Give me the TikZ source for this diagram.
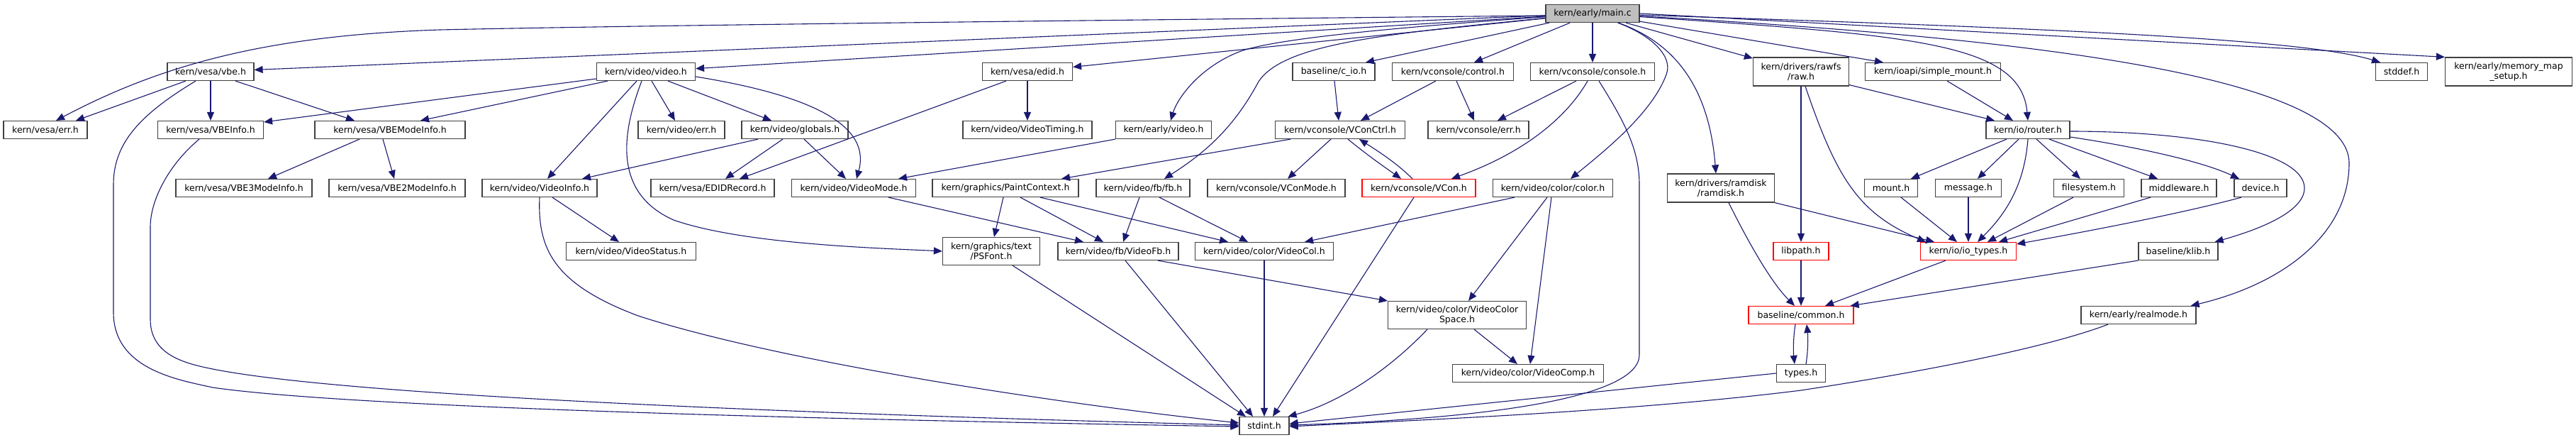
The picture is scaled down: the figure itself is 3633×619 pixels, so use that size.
\documentclass[tikz,border=0pt]{standalone}
\usepackage{fontspec}
\setmainfont{DejaVu Sans}
\usepackage{tikz}
\usetikzlibrary{arrows.meta}
\definecolor{edgeblue}{HTML}{191970}
\definecolor{boxgray}{HTML}{404040}

\begin{document}
\begin{tikzpicture}[x=1pt, y=-1pt,
    hdr/.style={draw=boxgray, fill=white, line width=1.2pt, minimum height=25pt, inner sep=1pt,
        align=center, font=\fontsize{12.5}{14.2}\selectfont},
    root/.style={hdr, fill=black!25},
    trunc/.style={hdr, draw=red},
    inc/.style={draw=edgeblue, line width=1.1pt, -{Triangle[length=12pt,width=10pt]}}]
    \useasboundingbox[fill=white] (0,0) rectangle (3633,619);

    % top row
    \node [root, minimum width=132] (main) at (2246,19) {kern/early/main.c};
    \node [hdr, minimum width=122] (vbe) at (297,101) {kern/vesa/vbe.h};
    \node [hdr, minimum width=139] (video) at (911,101) {kern/video/video.h};
    \node [hdr, minimum width=127] (edid) at (1449,101) {kern/vesa/edid.h};
    \node [hdr, minimum width=116] (cio) at (1881,101) {baseline/c\_io.h};
    \node [hdr, minimum width=171] (control) at (2049,101) {kern/vconsole/control.h};
    \node [hdr, minimum width=175] (console) at (2246,101) {kern/vconsole/console.h};
    \node [hdr, minimum width=135, minimum height=40] (raw) at (2540,101) {kern/drivers/rawfs\\/raw.h};
    \node [hdr, minimum width=191] (smount) at (2726,101) {kern/ioapi/simple\_mount.h};
    \node [hdr, minimum width=73] (stddef) at (3387,101) {stddef.h};
    \node [hdr, minimum width=179, minimum height=40] (memmap) at (3538,101) {kern/early/memory\_map\\\_setup.h};

    \node [hdr, minimum width=118] (vesaerr) at (64,183) {kern/vesa/err.h};
    \node [hdr, minimum width=149] (vbeinfo) at (297,183) {kern/vesa/VBEInfo.h};
    \node [hdr, minimum width=212] (vbemode) at (550,183) {kern/vesa/VBEModeInfo.h};
    \node [hdr, minimum width=122] (viderr) at (961,183) {kern/video/err.h};
    \node [hdr, minimum width=150] (globals) at (1121,183) {kern/video/globals.h};
    \node [hdr, minimum width=182] (vtiming) at (1449,183) {kern/video/VideoTiming.h};
    \node [hdr, minimum width=135] (evideo) at (1641,183) {kern/early/video.h};
    \node [hdr, minimum width=183] (vconctrl) at (1890,183) {kern/vconsole/VConCtrl.h};
    \node [hdr, minimum width=142] (vconerr) at (2085,183) {kern/vconsole/err.h};
    \node [hdr, minimum width=118] (router) at (2860,183) {kern/io/router.h};

    \node [hdr, minimum width=192] (vbe3) at (344,265) {kern/vesa/VBE3ModeInfo.h};
    \node [hdr, minimum width=192] (vbe2) at (560,265) {kern/vesa/VBE2ModeInfo.h};
    \node [hdr, minimum width=162] (vinfo) at (761,265) {kern/video/VideoInfo.h};
    \node [hdr, minimum width=174] (edidrec) at (1005,265) {kern/vesa/EDIDRecord.h};
    \node [hdr, minimum width=175] (vmode) at (1204,265) {kern/video/VideoMode.h};
    \node [hdr, minimum width=206] (paint) at (1418,265) {kern/graphics/PaintContext.h};
    \node [hdr, minimum width=132] (fb) at (1612,265) {kern/video/fb/fb.h};
    \node [hdr, minimum width=194] (vconmode) at (1800,265) {kern/vconsole/VConMode.h};
    \node [trunc, minimum width=160] (vcon) at (2001,265) {kern/vconsole/VCon.h};
    \node [hdr, minimum width=169] (color) at (2190,265) {kern/video/color/color.h};
    \node [hdr, minimum width=151, minimum height=40] (ramdisk) at (2427,265) {kern/drivers/ramdisk\\/ramdisk.h};
    \node [hdr, minimum width=75] (mount) at (2667,265) {mount.h};
    \node [hdr, minimum width=93] (message) at (2776,265) {message.h};
    \node [hdr, minimum width=99] (filesys) at (2946,265) {filesystem.h};
    \node [hdr, minimum width=106] (middleware) at (3073,265) {middleware.h};
    \node [hdr, minimum width=74] (device) at (3188,265) {device.h};

    \node [hdr, minimum width=183] (vstatus) at (890,354) {kern/video/VideoStatus.h};
    \node [hdr, minimum width=137, minimum height=39] (psfont) at (1398,354) {kern/graphics/text\\/PSFont.h};
    \node [hdr, minimum width=170] (videofb) at (1577,354) {kern/video/fb/VideoFb.h};
    \node [hdr, minimum width=195] (videocol) at (1783,354) {kern/video/color/VideoCol.h};
    \node [trunc, minimum width=78] (libpath) at (2540,354) {libpath.h};
    \node [trunc, minimum width=135] (iotypes) at (2776,354) {kern/io/io\_types.h};
    \node [hdr, minimum width=112] (klib) at (3072,354) {baseline/klib.h};

    \node [hdr, minimum width=195, minimum height=39] (colorspace) at (2055,444) {kern/video/color/VideoColor\\Space.h};
    \node [trunc, minimum width=148] (common) at (2540,444) {baseline/common.h};
    \node [hdr, minimum width=162] (realmode) at (3016,444) {kern/early/realmode.h};
    \node [hdr, minimum width=213] (vcomp) at (2155,526) {kern/video/color/VideoComp.h};
    \node [hdr, minimum width=69] (types) at (2540,526) {types.h};
    \node [hdr, minimum width=70] (stdint) at (1783,600) {stdint.h};

    % kern/early/main.c
    \draw[inc] ([yshift=-3]main.west) .. controls (1400,30) and (900,36) .. (620,42) .. controls (380,50) and (230,90) .. ([xshift=15]vesaerr.north);
    \draw[inc] (main) -- (vbe);
    \draw[inc] (main) -- (video);
    \draw[inc] (main) -- (edid);
    \draw[inc] (main) .. controls (1950,40) and (1800,55) .. (1750,72) .. controls (1690,95) and (1660,140) .. ([xshift=10]evideo.north);
    \draw[inc] (main) .. controls (1950,48) and (1810,62) .. (1775,115) .. controls (1740,180) and (1700,215) .. ([xshift=30]fb.north);
    \draw[inc] (main) -- ([xshift=45]cio.north);
    \draw[inc] (main) -- ([xshift=30]control.north);
    \draw[inc] (main) -- (console);
    \draw[inc] (main) .. controls (2330,50) and (2360,80) .. (2350,105) .. controls (2330,160) and (2260,215) .. ([xshift=25]color.north);
    \draw[inc] (main) .. controls (2360,60) and (2410,120) .. ([xshift=-7]ramdisk.north);
    \draw[inc] (main) -- (raw);
    \draw[inc] (main) -- ([xshift=-70]smount.north);
    \draw[inc] (main) .. controls (2700,50) and (2850,60) .. (router.north);
    \draw[inc] (main) .. controls (2900,40) and (3250,55) .. ([xshift=-30]stddef.north);
    \draw[inc] (main.east) -- (memmap.north west);
    \draw[inc] (main) .. controls (2800,50) and (3313,100) .. (3313,230) .. controls (3313,330) and (3220,400) .. ([xshift=-8]realmode.north east);

    % vesa
    \draw[inc] ([xshift=-35]vbe.south) -- ([xshift=43]vesaerr.north);
    \draw[inc] (vbe) -- (vbeinfo);
    \draw[inc] ([xshift=35]vbe.south) -- ([xshift=-50]vbemode.north);
    \draw[inc] ([xshift=-21]vbe.south) .. controls (200,160) and (160,200) .. (160,260) -- (160,440) .. controls (160,520) and (250,535) .. (300,546) .. controls (500,575) and (1200,592) .. ([yshift=-1]stdint.west);
    \draw[inc] ([xshift=-16]vbeinfo.south) .. controls (240,230) and (212,280) .. (212,320) -- (212,450) .. controls (212,500) and (260,512) .. (300,520) .. controls (500,560) and (1200,585) .. ([yshift=1]stdint.west);
    \draw[inc] ([xshift=-43]vbemode.south) -- ([xshift=34]vbe3.north);
    \draw[inc] ([xshift=-10]vbemode.south) -- ([xshift=-4]vbe2.north);
    \draw[inc] ([xshift=-30]edid.south) -- ([xshift=38]edidrec.north);
    \draw[inc] (edid) -- (vtiming);

    % video
    \draw[inc] ([yshift=-10]video.west) -- ([yshift=11]vbeinfo.east);
    \draw[inc] ([xshift=-54]video.south) -- ([xshift=43]vbemode.north);
    \draw[inc] ([xshift=-13]video.south) -- ([xshift=11]vinfo.north);
    \draw[inc] ([xshift=8]video.south) -- ([xshift=-9]viderr.north);
    \draw[inc] ([xshift=31]video.south) -- ([xshift=-33]globals.north);
    \draw[inc] ([xshift=-6]video.south) .. controls (880,180) and (860,270) .. (950,310) .. controls (1050,345) and (1250,350) .. (psfont.west);
    \draw[inc] ([yshift=-7]video.east) .. controls (1180,140) and (1225,190) .. ([xshift=4]vmode.north);
    \draw[inc] ([xshift=-52]globals.south) -- ([xshift=60]vinfo.north);
    \draw[inc] ([xshift=-17]globals.south) -- ([xshift=18]edidrec.north);
    \draw[inc] ([xshift=13]globals.south) -- ([xshift=-11]vmode.north);
    \draw[inc] ([xshift=18]vinfo.south) -- ([xshift=-17]vstatus.north);
    \draw[inc] (vinfo.south) .. controls (758,350) and (780,400) .. (900,445) .. controls (1100,510) and (1500,570) .. ([yshift=4]stdint.west);
    \draw[inc] (evideo.south west) -- ([xshift=63]vmode.north);
    \draw[inc] ([xshift=49]vmode.south) -- ([xshift=-49]videofb.north);
    \draw[inc] ([xshift=-3]paint.south) -- ([xshift=4]psfont.north);
    \draw[inc] ([xshift=21]paint.south) -- ([xshift=-21]videofb.north);
    \draw[inc] ([xshift=49]paint.south) -- ([xshift=-51]videocol.north);
    \draw[inc] ([xshift=-5]fb.south) -- ([xshift=7]videofb.north);
    \draw[inc] ([xshift=23]fb.south) -- ([xshift=-23]videocol.north);
    \draw[inc] ([xshift=56]videofb.south) -- (colorspace.north west);
    \draw[inc] ([xshift=30]psfont.south) -- ([xshift=-26]stdint.north);
    \draw[inc] ([xshift=10]videofb.south) -- ([xshift=-16]stdint.north);
    \draw[inc] (videocol) -- (stdint);
    \draw[inc] ([xshift=-7]vcon.south) -- ([xshift=12]stdint.north);

    % vconsole
    \draw[inc] ([xshift=-70]vconctrl.south) -- ([xshift=79]paint.north);
    \draw[inc] ([xshift=1]cio.south) -- ([xshift=-2]vconctrl.north);
    \draw[inc] ([xshift=-24]control.south) -- ([xshift=29]vconctrl.north);
    \draw[inc] ([xshift=5]control.south) -- ([xshift=-6]vconerr.north);
    \draw[inc] ([xshift=-23]console.south) -- ([xshift=27]vconerr.north);
    \draw[inc] ([xshift=-7]console.south) .. controls (2210,165) and (2150,215) .. ([xshift=46]vcon.north);
    \draw[inc] ([xshift=9]console.south) .. controls (2290,170) and (2312,210) .. (2312,260) -- (2312,500) .. controls (2312,560) and (2100,590) .. ([yshift=1]stdint.east);
    \draw[inc] ([xshift=-13]vconctrl.south) -- ([xshift=16]vconmode.north);
    \draw[inc] ([xshift=11]vconctrl.south) .. controls (1930,220) and (1955,237) .. ([xshift=-25]vcon.north);
    \draw[inc] ([xshift=-9]vcon.north) .. controls (1970,230) and (1945,214) .. ([xshift=27]vconctrl.south);

    % color
    \draw[inc] ([xshift=-54]color.south) -- ([xshift=57]videocol.north);
    \draw[inc] ([xshift=-8]color.south) -- ([xshift=16]colorspace.north);
    \draw[inc] ([xshift=-2]color.south) -- ([xshift=3]vcomp.north);
    \draw[inc] ([xshift=24]colorspace.south) -- ([xshift=-15]vcomp.north);
    \draw[inc] ([xshift=-42]colorspace.south) .. controls (1950,530) and (1880,570) .. ([xshift=-2]stdint.north east);

    % io
    \draw[inc] ([xshift=11]ramdisk.south) .. controls (2470,350) and (2500,400) .. ([xshift=-9]common.north);
    \draw[inc] (ramdisk.south east) -- ([xshift=-48]iotypes.north);
    \draw[inc] (raw) -- (libpath);
    \draw[inc] ([xshift=6]raw.south) .. controls (2590,250) and (2620,300) .. ([xshift=-60]iotypes.north);
    \draw[inc] ([yshift=2]raw.south east) -- ([xshift=-47]router.north);
    \draw[inc] ([xshift=20]smount.south) -- ([xshift=-21]router.north);
    \draw[inc] ([xshift=-30]router.south) -- ([xshift=28]mount.north);
    \draw[inc] ([xshift=-13]router.south) -- ([xshift=13]message.north);
    \draw[inc] (router.south) .. controls (2855,260) and (2830,300) .. ([xshift=13]iotypes.north);
    \draw[inc] ([xshift=12]router.south) -- ([xshift=-12]filesys.north);
    \draw[inc] ([xshift=30]router.south) -- ([xshift=-30]middleware.north);
    \draw[inc] ([yshift=-10]router.east) .. controls (3000,205) and (3100,225) .. ([xshift=-30]device.north);
    \draw[inc] ([yshift=-2]router.east) .. controls (3100,185) and (3250,215) .. (3250,265) .. controls (3250,300) and (3180,325) .. ([xshift=-5]klib.north east);
    \draw[inc] ([xshift=14]mount.south) -- ([xshift=-16]iotypes.north);
    \draw[inc] (message) -- (iotypes);
    \draw[inc] ([xshift=-22]filesys.south) -- ([xshift=27]iotypes.north);
    \draw[inc] ([xshift=-40]middleware.south) -- ([xshift=43]iotypes.north);
    \draw[inc] ([xshift=-27]device.south) .. controls (3080,300) and (2950,325) .. ([yshift=-3]iotypes.north east);
    \draw[inc] ([xshift=-32]iotypes.south) -- ([xshift=34]common.north);
    \draw[inc] (klib.south west) -- ([xshift=-5]common.north east);
    \draw[inc] (libpath) -- (common);
    \draw[inc] ([xshift=-8]common.south) .. controls (2529,475) and (2529,495) .. ([xshift=-9]types.north);
    \draw[inc] ([xshift=7]types.north) .. controls (2550,495) and (2550,475) .. ([xshift=8]common.south);
    \draw[inc] (types.west) -- ([yshift=3]stdint.east);
    \draw[inc] ([xshift=-43]realmode.south) .. controls (2900,485) and (2750,518) .. (2540,550) .. controls (2300,580) and (2000,592) .. ([yshift=-1]stdint.east);
\end{tikzpicture}
\end{document}
